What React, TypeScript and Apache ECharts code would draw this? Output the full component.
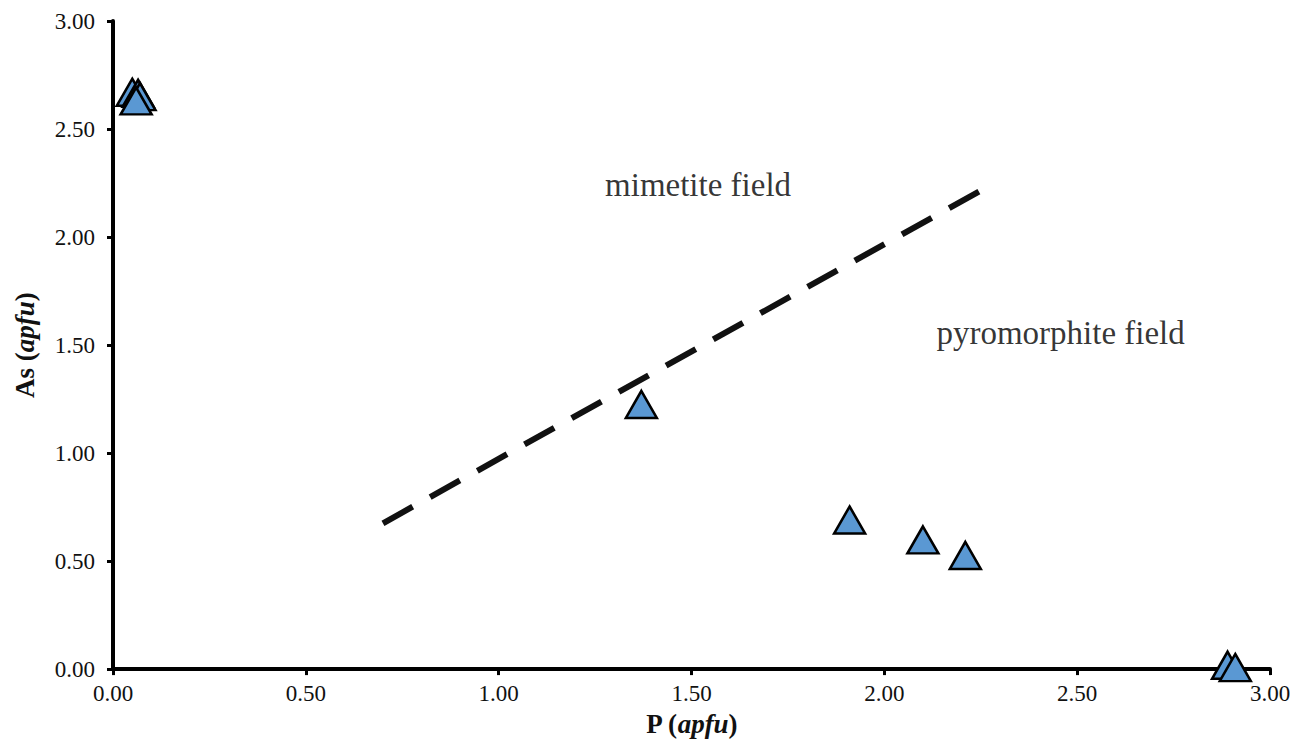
import React, { useEffect, useRef } from "react";
import * as echarts from "echarts";

const xTicks = [0, 0.5, 1, 1.5, 2, 2.5, 3];
const yTicks = [0, 0.5, 1, 1.5, 2, 2.5, 3];
const pValues = [0.05, 0.065, 0.07, 0.06, 1.37, 1.91, 2.1, 2.21, 2.89, 2.91];
const asValues = [2.67, 2.665, 2.65, 2.63, 1.225, 0.69, 0.598, 0.526, 0.018, 0.007];
const boundaryP = [0.7, 2.26];
const boundaryAs = [0.675, 2.225];
const fieldNames = ["mimetite field", "pyromorphite field"];
const fieldP = [1.517, 2.457];
const fieldAs = [2.243, 1.556];

const FONT = "Liberation Serif";

export default function App() {
  const ref = useRef<HTMLDivElement>(null);
  useEffect(() => {
    if (!ref.current) return;
    const chart = echarts.init(ref.current, undefined, { renderer: "svg" });
    const axisCommon = {
      type: "value" as const,
      min: xTicks[0],
      max: xTicks[xTicks.length - 1],
      interval: 0.5,
      splitLine: { show: false },
      axisLine: { show: true, onZero: false, lineStyle: { color: "#000", width: 4 } },
      axisTick: { show: true, length: 6, lineStyle: { color: "#000", width: 3 } },
    };
    const nameRich = {
      b: { fontFamily: FONT, fontSize: 27, fontWeight: "bold", color: "#111" },
      i: { fontFamily: FONT, fontSize: 27, fontWeight: "bold", fontStyle: "italic", color: "#111" },
    };
    chart.setOption({
      animation: false,
      backgroundColor: "#fff",
      grid: { left: 113, right: 26, top: 21, bottom: 71, containLabel: false },
      xAxis: {
        ...axisCommon,
        axisLabel: {
          margin: 13,
          color: "#111",
          fontFamily: FONT,
          fontSize: 23,
          formatter: (v: number) => v.toFixed(2),
        },
        name: "{b|P (}{i|apfu}{b|)}",
        nameLocation: "middle",
        nameGap: 34,
        nameTextStyle: { rich: nameRich },
      },
      yAxis: {
        ...axisCommon,
        min: yTicks[0],
        max: yTicks[yTicks.length - 1],
        axisLabel: {
          margin: 18,
          color: "#111",
          fontFamily: FONT,
          fontSize: 23,
          formatter: (v: number) => v.toFixed(2),
        },
        name: "{b|As (}{i|apfu}{b|)}",
        nameLocation: "middle",
        nameGap: 75,
        nameRotate: 90,
        nameTextStyle: { rich: nameRich },
      },
      series: [
        {
          type: "line",
          data: boundaryP.map((p, i) => [p, boundaryAs[i]]),
          symbol: "none",
          lineStyle: { color: "#111", width: 6, type: [34, 20], cap: "butt" },
          z: 2,
        },
        {
          type: "scatter",
          data: pValues.map((p, i) => [p, asValues[i]]),
          symbol: "triangle",
          symbolSize: [31, 27],
          itemStyle: { color: "#5a98d3", borderColor: "#000", borderWidth: 2.5, opacity: 1 },
          z: 3,
        },
        {
          type: "scatter",
          data: fieldNames.map((n, i) => ({ name: n, value: [fieldP[i], fieldAs[i]] })),
          symbolSize: 1,
          itemStyle: { color: "rgba(0,0,0,0)" },
          label: {
            show: true,
            position: "inside",
            formatter: (p: any) => p.name,
            fontFamily: FONT,
            fontSize: 33,
            color: "#000",
            textBorderWidth: 0,
            textBorderColor: "transparent",
          },
          silent: true,
          z: 4,
        },
      ],
    });
    return () => chart.dispose();
  }, []);
  return <div ref={ref} style={{ width: 1296, height: 742, position: "absolute", left: 0, top: 0 }} />;
}
